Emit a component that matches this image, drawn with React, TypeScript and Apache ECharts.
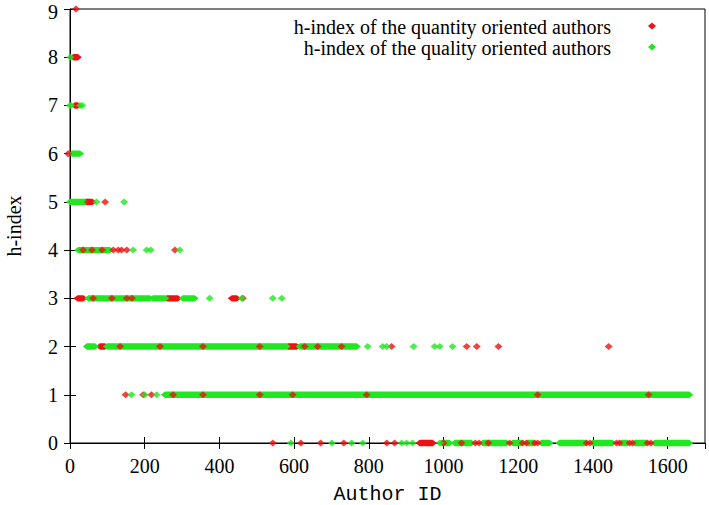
import React, { useEffect, useRef } from 'react';
import * as echarts from 'echarts';

// Axis ranges / ticks
const xMin = 0;
const xMax = 1700;
const xInterval = 200;
const yMin = 0;
const yMax = 9;
const yInterval = 1;

const legendLabels = [
  'h-index of the quantity oriented authors',
  'h-index of the quality oriented authors',
];

// Dense runs of markers: [firstAuthorId, lastAuthorId, hIndex]
const quantityRuns: number[][] = [
  [9, 21, 8],
  [13, 21, 7],
  [40, 60, 5],
  [20, 36, 3],
  [259, 289, 3],
  [433, 447, 3],
  [80, 94, 2],
  [583, 607, 2],
  [936, 971, 0],
];

const qualityRuns: number[][] = [
  [5, 27, 6],
  [0, 40, 5],
  [22, 107, 4],
  [49, 214, 3],
  [222, 255, 3],
  [302, 334, 3],
  [45, 67, 2],
  [99, 580, 2],
  [615, 768, 2],
  [254, 1658, 1],
  [995, 1016, 0],
  [1030, 1075, 0],
  [1105, 1169, 0],
  [1185, 1209, 0],
  [1225, 1242, 0],
  [1262, 1284, 0],
  [1310, 1380, 0],
  [1399, 1452, 0],
  [1476, 1492, 0],
  [1512, 1543, 0],
  [1565, 1658, 0],
];

// Individual markers: [authorId, hIndex]
const quantityPoints: number[][] = [
  [16, 9],
  [-5, 6],
  [48, 5], [94, 5],
  [35, 4], [59, 4], [86, 4], [116, 4], [129, 4], [138, 4], [152, 4], [281, 4],
  [62, 3], [112, 3], [152, 3], [166, 3], [463, 3],
  [134, 2], [241, 2], [356, 2], [508, 2], [628, 2], [663, 2], [727, 2], [861, 2],
  [1062, 2], [1089, 2], [1147, 2], [1442, 2],
  [149, 1], [196, 1], [218, 1], [276, 1], [356, 1], [508, 1], [596, 1], [794, 1],
  [1252, 1], [1549, 1],
  [543, 0], [618, 0], [671, 0], [733, 0], [848, 0], [869, 0], [1000, 0], [1048, 0],
  [1085, 0], [1095, 0], [1120, 0], [1177, 0], [1212, 0], [1222, 0], [1244, 0],
  [1252, 0], [1383, 0], [1392, 0], [1463, 0], [1471, 0], [1498, 0], [1506, 0],
  [1546, 0], [1555, 0],
];

const qualityPoints: number[][] = [
  [1, 8],
  [0, 7], [3, 7], [27, 7], [33, 7],
  [71, 5], [145, 5],
  [169, 4], [205, 4], [216, 4], [294, 4],
  [374, 3], [460, 3], [543, 3], [567, 3],
  [797, 2], [837, 2], [848, 2], [920, 2], [976, 2], [990, 2], [1024, 2],
  [165, 1], [200, 1], [232, 1],
  [591, 0], [701, 0], [754, 0], [784, 0], [888, 0], [901, 0], [917, 0], [990, 0],
];

const RED = '#ee1111';
const GREEN = '#22e622';
const SERIF = "'Liberation Serif', 'Times New Roman', serif";
const MONO = "'Liberation Mono', 'Courier New', monospace";

function bandSeries(name: string, runs: number[][], color: string, z: number) {
  return {
    type: 'custom',
    name,
    z,
    silent: true,
    clip: false,
    data: runs,
    encode: { x: [0, 1], y: 2 },
    renderItem: (_params: any, api: any) => {
      const a = api.coord([api.value(0), api.value(2)]);
      const b = api.coord([api.value(1), api.value(2)]);
      const hw = 4;
      const hh = 3.2;
      return {
        type: 'polygon',
        shape: {
          points: [
            [a[0] - hw, a[1]],
            [a[0], a[1] - hh],
            [b[0], b[1] - hh],
            [b[0] + hw, b[1]],
            [b[0], b[1] + hh],
            [a[0], a[1] + hh],
          ],
        },
        style: { fill: color },
      };
    },
  };
}

function diamond(cx: number, cy: number, color: string) {
  return {
    type: 'polygon',
    shape: { points: [[cx - 4, cy], [cx, cy - 3.5], [cx + 4, cy], [cx, cy + 3.5]] },
    style: { fill: color },
  };
}

export default function App() {
  const ref = useRef<HTMLDivElement>(null);
  useEffect(() => {
    if (!ref.current) return;
    const chart = echarts.init(ref.current, undefined, { renderer: 'svg' });
    const tickCommon = { show: true, inside: true, length: 6, lineStyle: { color: '#000', width: 1 } };
    chart.setOption({
      animation: false,
      backgroundColor: '#fff',
      grid: {
        left: 70, right: 4, top: 9, bottom: 62,
        containLabel: false,
        outerBoundsMode: 'none',
        show: true, borderColor: '#000', borderWidth: 1, backgroundColor: 'transparent',
      },
      xAxis: [
        {
          type: 'value', min: xMin, max: xMax, interval: xInterval, position: 'bottom',
          name: 'Author ID', nameLocation: 'middle', nameGap: 42,
          nameTextStyle: { fontFamily: MONO, fontSize: 20, color: '#000', lineHeight: 18 },
          axisLine: { show: true, lineStyle: { color: '#000', width: 1 } },
          axisTick: tickCommon,
          axisLabel: {
            fontFamily: SERIF, fontSize: 20, color: '#000', margin: 13, showMaxLabel: false,
            formatter: (v: number) => String(v),
          },
          splitLine: { show: false },
        },
        {
          type: 'value', min: xMin, max: xMax, interval: xInterval, position: 'top',
          axisLine: { show: false },
          axisTick: tickCommon,
          axisLabel: { show: false },
          splitLine: { show: false },
        },
      ],
      yAxis: [
        {
          type: 'value', min: yMin, max: yMax, interval: yInterval, position: 'left',
          name: 'h-index', nameLocation: 'middle', nameGap: 46, nameRotate: 90,
          nameTextStyle: { fontFamily: SERIF, fontSize: 20, color: '#000' },
          axisLine: { show: true, lineStyle: { color: '#000', width: 1 } },
          axisTick: tickCommon,
          axisLabel: {
            fontFamily: SERIF, fontSize: 20, color: '#000', margin: 12, lineHeight: 16,
            formatter: (v: number) => (v === yMax ? `{top|${v}}` : String(v)),
            rich: {
              top: { fontFamily: SERIF, fontSize: 20, color: '#000', lineHeight: 16, padding: [5, 0, 0, 0] },
            },
          },
          splitLine: { show: false },
        },
        {
          type: 'value', min: yMin, max: yMax, interval: yInterval, position: 'right',
          axisLine: { show: false },
          axisTick: tickCommon,
          axisLabel: { show: false },
          splitLine: { show: false },
        },
      ],
      graphic: [
        {
          type: 'text', x: 611, y: 27,
          style: { text: legendLabels[0], textAlign: 'right', textVerticalAlign: 'middle', font: `20px ${SERIF}`, fill: '#000' },
        },
        {
          type: 'text', x: 611, y: 48,
          style: { text: legendLabels[1], textAlign: 'right', textVerticalAlign: 'middle', font: `20px ${SERIF}`, fill: '#000' },
        },
        diamond(652, 26, RED),
        diamond(652, 47, GREEN),
      ],
      series: [
        bandSeries('quantityRuns', quantityRuns, RED, 1),
        bandSeries('qualityRuns', qualityRuns, GREEN, 2),
        {
          type: 'scatter', name: legendLabels[0], data: quantityPoints, z: 3, clip: false,
          symbol: 'diamond', symbolSize: [8, 7], itemStyle: { color: RED }, silent: true,
        },
        {
          type: 'scatter', name: legendLabels[1], data: qualityPoints, z: 4, clip: false,
          symbol: 'diamond', symbolSize: [8, 7], itemStyle: { color: GREEN }, silent: true,
        },
      ],
    });
    return () => chart.dispose();
  }, []);
  return <div ref={ref} style={{ width: 709, height: 505, position: 'absolute', left: 0, top: 0 }} />;
}
